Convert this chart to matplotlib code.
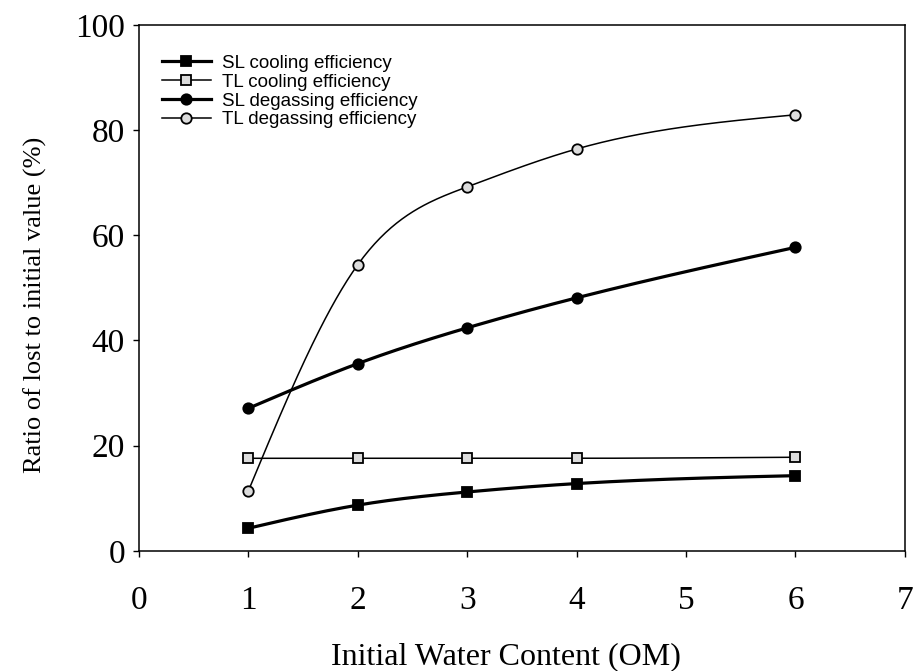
import numpy as np
import matplotlib.pyplot as plt

# data
water = [1, 2, 3, 4, 6]
sl_cooling = [4.3, 8.7, 11.2, 12.8, 14.3]
tl_cooling = [17.6, 17.6, 17.6, 17.6, 17.8]
sl_degassing = [27.1, 35.6, 42.4, 48.1, 57.7]
tl_degassing = [11.4, 54.4, 69.2, 76.4, 82.9]


def natural_spline(x, y, n=300):
    # natural cubic spline through the points, for a smooth curve
    x = np.asarray(x, float)
    y = np.asarray(y, float)
    k = len(x)
    h = np.diff(x)
    A = np.zeros((k, k))
    b = np.zeros(k)
    A[0, 0] = A[-1, -1] = 1
    for i in range(1, k - 1):
        A[i, i - 1] = h[i - 1]
        A[i, i] = 2 * (h[i - 1] + h[i])
        A[i, i + 1] = h[i]
        b[i] = 3 * ((y[i + 1] - y[i]) / h[i] - (y[i] - y[i - 1]) / h[i - 1])
    c = np.linalg.solve(A, b)
    xs = np.linspace(x[0], x[-1], n)
    idx = np.clip(np.searchsorted(x, xs) - 1, 0, k - 2)
    dx = xs - x[idx]
    hi = h[idx]
    bb = (y[idx + 1] - y[idx]) / hi - hi * (2 * c[idx] + c[idx + 1]) / 3
    dd = (c[idx + 1] - c[idx]) / (3 * hi)
    ys = y[idx] + bb * dx + c[idx] * dx ** 2 + dd * dx ** 3
    return xs, ys


plt.rcParams['font.family'] = 'Liberation Serif'
fig = plt.figure(figsize=(9.14, 6.71), dpi=100)
ax = fig.add_axes([0.152, 0.179, 0.838, 0.784])

series = [
    ('SL cooling efficiency', sl_cooling, 's', 'black', 2.3),
    ('TL cooling efficiency', tl_cooling, 's', '#dcdcdc', 1.1),
    ('SL degassing efficiency', sl_degassing, 'o', 'black', 2.3),
    ('TL degassing efficiency', tl_degassing, 'o', '#dcdcdc', 1.1),
]
for name, vals, mk, fc, lw in series:
    xs, ys = natural_spline(water, vals)
    ax.plot(xs, ys, color='black', linewidth=lw, zorder=2)
    ax.plot(water, vals, linestyle='none', marker=mk, markersize=7.5,
            markerfacecolor=fc, markeredgecolor='black', markeredgewidth=1.3, zorder=3)
    # legend entry
    ax.plot([], [], color='black', linewidth=lw, marker=mk, markersize=7.5,
            markerfacecolor=fc, markeredgecolor='black', markeredgewidth=1.3, label=name)

ax.set_xlim(0, 7)
ax.set_ylim(0, 100)
ax.set_xticks(range(0, 8))
ax.set_yticks(range(0, 101, 20))
ax.tick_params(direction='out', length=4, width=1, labelsize=24,
               top=False, right=False)
ax.tick_params(axis='x', pad=21)
ax.tick_params(axis='y', pad=6)
ax.set_xlabel('Initial Water Content (OM)', fontsize=23)
ax.set_ylabel('Ratio of lost to initial value (%)', fontsize=19)
ax.xaxis.set_label_coords(0.479, -0.173)
ax.yaxis.set_label_coords(-0.12, 0.468)
for s in ax.spines.values():
    s.set_linewidth(1.1)

leg = ax.legend(loc='upper left', frameon=False, handlelength=2.6,
                prop={'family': 'Liberation Sans', 'size': 13.5},
                bbox_to_anchor=(0.030, 0.943), borderaxespad=0, borderpad=0,
                labelspacing=0.09, handletextpad=0.6)

fig.savefig('out.png', dpi=100)
